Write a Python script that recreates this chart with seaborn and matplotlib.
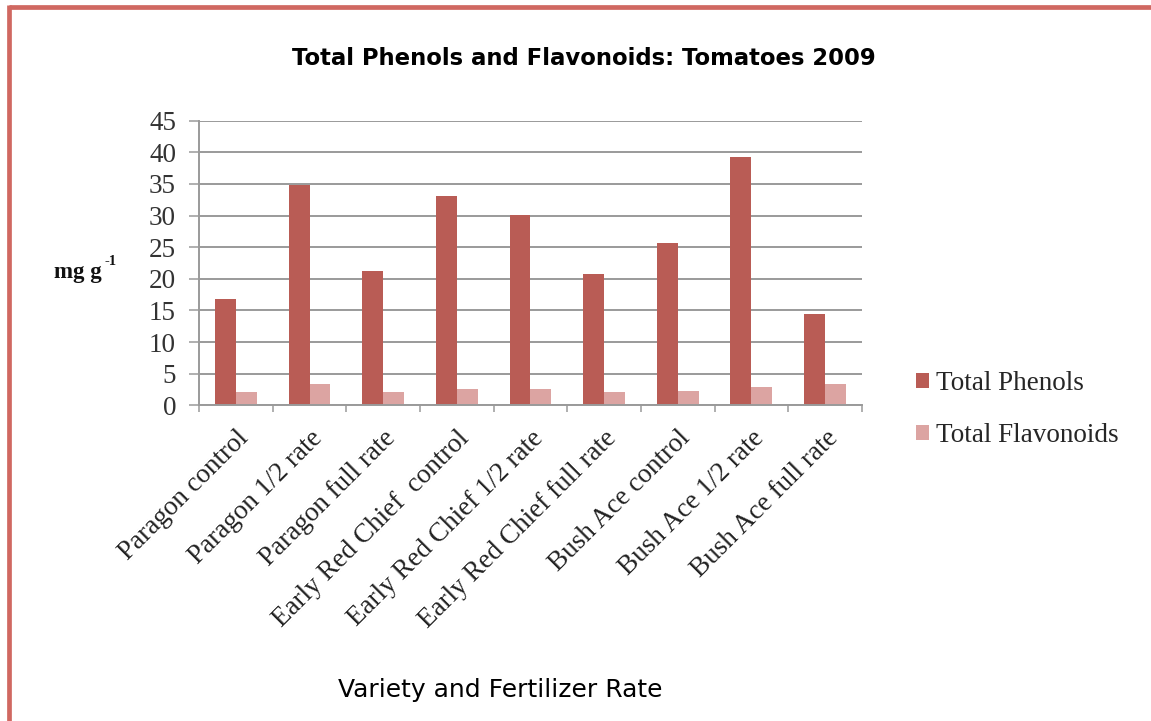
import matplotlib
matplotlib.use("Agg")
import matplotlib.pyplot as plt
from matplotlib.lines import Line2D
from matplotlib.patches import Patch
import pandas as pd
import seaborn as sns

categories = [
    "Paragon control", "Paragon 1/2 rate", "Paragon full rate",
    "Early Red Chief  control", "Early Red Chief 1/2 rate",
    "Early Red Chief full rate", "Bush Ace control",
    "Bush Ace 1/2 rate", "Bush Ace full rate",
]
total_phenols = [16.8, 34.9, 21.3, 33.1, 30.1, 20.8, 25.6, 39.2, 14.4]
total_flavonoids = [2.1, 3.4, 2.1, 2.6, 2.6, 2.1, 2.3, 2.9, 3.4]
series_names = ["Total Phenols", "Total Flavonoids"]
y_ticks = [0, 5, 10, 15, 20, 25, 30, 35, 40, 45]

colors = ["#B95C55", "#DCA4A2"]
border_color = "#D06861"
grid_color = "#9A9A9A"
serif = "Liberation Serif"

df = pd.DataFrame({
    "category": categories * 2,
    "value": total_phenols + total_flavonoids,
    "series": [series_names[0]] * len(categories) + [series_names[1]] * len(categories),
})

sns.set_theme(style="white")
plt.rcParams["font.family"] = ["DejaVu Sans"]

fig = plt.figure(figsize=(11.51, 7.21), dpi=100)
fig.patch.set_facecolor("white")
ax = fig.add_axes([0.1729, 0.4379, 0.576, 0.3947])

sns.barplot(data=df, x="category", y="value", hue="series", order=categories,
            hue_order=series_names, palette=colors, width=0.57, gap=0,
            saturation=1, edgecolor="none", linewidth=0, ax=ax, legend=False)

ax.set_xlim(-0.5, len(categories) - 0.5)
ax.set_ylim(0, 45)
ax.set_yticks(y_ticks)
ax.set_yticklabels([str(t) for t in y_ticks], fontfamily=serif, fontsize=19.5, color="#333333")
ax.yaxis.grid(True, color=grid_color, linewidth=1.4)
ax.set_axisbelow(True)
ax.tick_params(axis="y", which="major", length=7.5, width=1.1, color=grid_color,
               direction="out", left=True, pad=9)

# category labels, with tick marks at the group boundaries
ax.set_xticks(range(len(categories)))
ax.set_xticklabels(categories, rotation=45, ha="right", rotation_mode="anchor",
                   fontfamily=serif, fontsize=19.5, color="#222222")
ax.tick_params(axis="x", which="major", length=0, pad=15)
ax.set_xticks([i - 0.5 for i in range(len(categories) + 1)], minor=True)
ax.tick_params(axis="x", which="minor", length=5, width=1.1, color=grid_color,
               direction="out", bottom=True)

for side in ["top", "right"]:
    ax.spines[side].set_visible(False)
for side in ["left", "bottom"]:
    ax.spines[side].set_color(grid_color)
    ax.spines[side].set_linewidth(1.4)

ax.set_xlabel("")
ax.set_ylabel("")

# unit label: "mg g" followed by a raised "-1"
unit = fig.text(0.047, 0.6225, "mg g", fontfamily=serif, fontweight="bold",
                fontsize=16.5, color="#111111", ha="left", va="center")
fig.canvas.draw()
unit_box = unit.get_window_extent().transformed(fig.transFigure.inverted())
fig.text(unit_box.x1 + 0.002, 0.637, "-1", fontfamily=serif, fontweight="bold",
         fontsize=10.5, color="#111111", ha="left", va="center")

fig.text(0.5075, 0.919, "Total Phenols and Flavonoids: Tomatoes 2009",
         fontfamily="DejaVu Sans", fontweight="bold", fontsize=16.4,
         color="black", ha="center", va="center")

fig.text(0.435, 0.043, "Variety and Fertilizer Rate", fontfamily="DejaVu Sans",
         fontsize=18, color="black", ha="center", va="center")

handles = [Patch(facecolor=c, edgecolor="none") for c in colors]
fig.legend(handles, series_names, loc="center left", bbox_to_anchor=(0.786, 0.432),
           frameon=False, prop={"family": serif, "size": 19.5},
           handlelength=0.5, handleheight=0.5, handletextpad=0.25,
           labelspacing=1.0, borderaxespad=0)

# frame lines along the top and left edges
fig.add_artist(Line2D([9 / 1151, 1.0], [1 - 7.2 / 721, 1 - 7.2 / 721],
                      transform=fig.transFigure, color=border_color, linewidth=3.4,
                      solid_capstyle="butt"))
fig.add_artist(Line2D([9.3 / 1151, 9.3 / 1151], [0.0, 1 - 5 / 721],
                      transform=fig.transFigure, color=border_color, linewidth=3.4,
                      solid_capstyle="butt"))

fig.savefig("out.png", dpi=100, facecolor="white")
